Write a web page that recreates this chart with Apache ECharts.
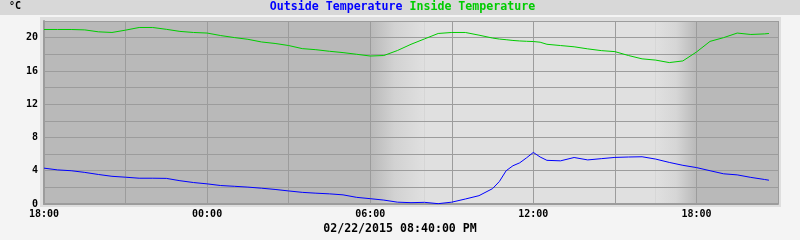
<!DOCTYPE html>
<html>
<head>
<meta charset="utf-8">
<script src="https://cdn.jsdelivr.net/npm/echarts@6/dist/echarts.min.js"></script>
<style>
html,body{margin:0;padding:0;background:#f4f4f4;}
#chart{width:800px;height:240px;}
</style>
</head>
<body>
<div id="chart"></div>
<script>
// ---- data ----
const times = ['18:00','18:30','19:00','19:30','20:00','20:30','21:00','21:30','22:00','22:30','23:00','23:30',
  '00:00','00:30','01:00','01:30','02:00','02:30','03:00','03:30','04:00','04:30','05:00','05:30',
  '06:00','06:30','07:00','07:30','08:00','08:30','09:00','09:30','10:00','10:30','10:45','11:00','11:15','11:30','11:45',
  '12:00','12:15','12:30','13:00','13:30','14:00','14:30','15:00','15:30','16:00','16:30','17:00','17:30',
  '18:00','18:30','19:00','19:30','20:00','20:30','20:40'];
const insideTemp = [20.98,20.98,20.98,20.93,20.70,20.62,20.90,21.22,21.22,21.00,20.75,20.62,
  20.55,20.25,20.01,19.80,19.48,19.30,19.05,18.68,18.55,18.36,18.20,18.00,
  17.79,17.85,18.45,19.20,19.85,20.50,20.62,20.62,20.30,19.95,19.83,19.75,19.66,19.60,19.56,
  19.53,19.45,19.20,19.05,18.90,18.65,18.44,18.32,17.85,17.45,17.30,17.00,17.20,
  18.27,19.55,20.00,20.55,20.38,20.45,20.50];
const outsideTemp = [4.31,4.10,4.00,3.80,3.55,3.33,3.22,3.10,3.10,3.08,2.80,2.58,
  2.42,2.22,2.13,2.03,1.90,1.75,1.57,1.40,1.30,1.22,1.10,0.80,
  0.64,0.47,0.22,0.16,0.20,0.04,0.22,0.60,1.00,1.85,2.70,4.00,4.60,4.95,5.55,
  6.20,5.65,5.25,5.19,5.59,5.30,5.45,5.60,5.65,5.68,5.40,5.00,4.65,
  4.38,4.00,3.63,3.50,3.20,2.95,2.86];
const seriesNames = ['Outside Temperature','Inside Temperature'];
const yTicks = [0,4,8,12,16,20];
const xTickLabels = ['18:00','00:00','06:00','12:00','18:00'];
const dateLabel = '02/22/2015 08:40:00 PM';
const unitLabel = '°C';
// twilight / daylight periods (on 02/22)
const dawn = ['06:00','08:00'];
const dusk = ['16:30','18:00'];

// ---- helpers ----
function toOffsets(list){
  let day = 0, prev = -Infinity;
  return list.map(t => {
    const [h,m] = t.split(':').map(Number);
    let v = h + m/60 + day*24 - 18;
    if (v < prev) { day++; v += 24; }
    prev = v; return v;
  });
}
function dayTwo(t){ const [h,m]=t.split(':').map(Number); return h + m/60 + 6; }
const xs = toOffsets(times);
const pad = n => (n<10?'0':'')+n;

const DARK = '#b9b9b9', LIGHT = '#e0e0e0', GRID = '#9c9c9c';
const font = 'DejaVu Sans Mono';

const chart = echarts.init(document.getElementById('chart'), null, {renderer:'canvas'});
chart.setOption({
  animation: false,
  backgroundColor: '#f4f4f4',
  graphic: [
    {type:'rect', z:-1, shape:{x:0,y:0,width:800,height:15}, style:{fill:'#d8d8d8'}},
    {type:'rect', z:-1, shape:{x:40,y:17,width:741,height:190}, style:{fill:'#dedede'}}
  ],
  title: [
    {text: unitLabel, left: 9, top: 1, padding: 0,
      textStyle:{fontFamily:font, fontSize:10, fontWeight:'bold', color:'#000'}},
    {text: dateLabel, left: 'center', top: 223, padding: 0,
      textStyle:{fontFamily:font, fontSize:11.6, fontWeight:'bold', color:'#000'}}
  ],
  legend: {
    top: 0, left: 'center', padding: 0, itemGap: 2, itemWidth: 0, itemHeight: 14, icon: 'none',
    selectedMode: false,
    data: [
      {name: seriesNames[0], textStyle:{color:'#0000ff'}},
      {name: seriesNames[1], textStyle:{color:'#00cc00'}}
    ],
    textStyle: {fontFamily:font, fontSize:11.6, fontWeight:'bold'}
  },
  grid: {left: 44, right: 22, top: 21, bottom: 36, show: true, backgroundColor: DARK, borderWidth: 0, containLabel: false},
  xAxis: {
    type: 'value', min: 0, max: 27, interval: 3, z: 2,
    axisLine: {show: true, lineStyle:{color: GRID, width: 2}},
    axisTick: {show: false},
    splitLine: {show: true, lineStyle:{color: GRID, width: 1}},
    axisLabel: {
      margin: 5, color:'#000', fontFamily: font, fontSize: 10, fontWeight:'bold',
      formatter: v => (v % 6 === 0) ? pad((18 + v) % 24) + ':00' : ''
    }
  },
  yAxis: {
    type: 'value', min: 0, max: 22, interval: 2, z: 2,
    axisLine: {show: true, lineStyle:{color: GRID, width: 2}},
    axisTick: {show: false},
    splitLine: {show: true, lineStyle:{color: GRID, width: 1}},
    axisLabel: {
      margin: 6, color:'#000', fontFamily: font, fontSize: 10, fontWeight:'bold',
      formatter: v => yTicks.includes(v) ? String(v) : ''
    }
  },
  series: [
    {
      name: seriesNames[0], type: 'line', z: 3, symbol: 'none', silent: true,
      data: xs.map((x,i) => [x, outsideTemp[i]]),
      lineStyle: {color:'#0000ff', width: 1}, itemStyle:{color:'#0000ff'},
      markArea: {
        z: 1, silent: true,
        data: [
          [{xAxis: dayTwo(dawn[0]), itemStyle:{color:{type:'linear',x:0,y:0,x2:1,y2:0,
              colorStops:[{offset:0,color:DARK},{offset:0.45,color:'#d2d2d2'},{offset:1,color:LIGHT}]}}},
           {xAxis: dayTwo(dawn[1])}],
          [{xAxis: dayTwo(dawn[1]), itemStyle:{color:LIGHT}}, {xAxis: dayTwo(dusk[0])}],
          [{xAxis: dayTwo(dusk[0]), itemStyle:{color:{type:'linear',x:0,y:0,x2:1,y2:0,
              colorStops:[{offset:0,color:LIGHT},{offset:0.5,color:'#d6d6d6'},{offset:1,color:DARK}]}}},
           {xAxis: dayTwo(dusk[1])}]
        ]
      }
    },
    {
      name: seriesNames[1], type: 'line', z: 3, symbol: 'none', silent: true,
      data: xs.map((x,i) => [x, insideTemp[i]]),
      lineStyle: {color:'#00cc00', width: 1}, itemStyle:{color:'#00cc00'}
    }
  ]
});
</script>
</body>
</html>
